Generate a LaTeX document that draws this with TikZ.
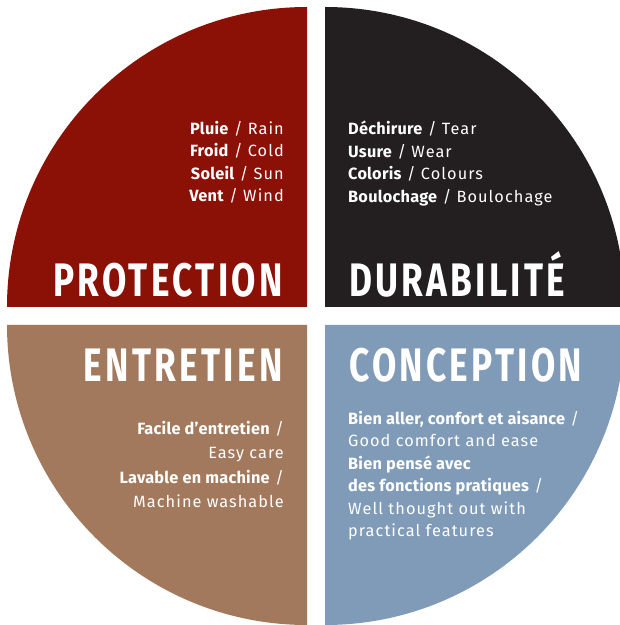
\documentclass[tikz,border=0pt]{standalone}
\usepackage{fontspec}
\setmainfont{Fira Sans}
\newfontfamily\titlefont{Fira Sans}[FakeStretch=0.75,LetterSpace=7]
\newfontfamily\bodyfont{Fira Sans}[LetterSpace=6.5,BoldFeatures={LetterSpace=1.5}]
\definecolor{protred}{RGB}{139,16,6}
\definecolor{durblack}{RGB}{35,31,32}
\definecolor{entbrown}{RGB}{163,121,93}
\definecolor{conblue}{RGB}{128,155,183}

\begin{document}
\begin{tikzpicture}[x=1pt,y=1pt,
  title/.style={text=white,inner sep=0pt,font=\titlefont\bfseries\fontsize{47}{47}\selectfont},
  item/.style={text=white,inner sep=0pt,font=\bodyfont\fontsize{16.3}{22.5}\selectfont}]
\clip (0,0) rectangle (620,625);

% the four quarters
\fill[protred] (307,318) -- ++(-300,0) arc (180:90:300) -- cycle;
\fill[durblack] (325,318) -- ++(0,300) arc (90:0:300) -- cycle;
\fill[entbrown] (307,300) -- ++(-300,0) arc (180:270:300) -- cycle;
\fill[conblue] (325,300) -- ++(300,0) arc (0:-90:300) -- cycle;

\node[title,anchor=base east] (protection) at (283,328) {PROTECTION};
\node[title,anchor=base west] (durabilite) at (349,328) {DURABILITÉ};
\node[title,anchor=base east] (entretien) at (283,243) {ENTRETIEN};
\node[title,anchor=base west] (conception) at (349,243) {CONCEPTION};

\node[item,align=right,anchor=north east] (protitems) at (284,504)
  {\textbf{Pluie} / Rain\\ \textbf{Froid} / Cold\\ \textbf{Soleil} / Sun\\ \textbf{Vent} / Wind};
\node[item,align=left,anchor=north west] (duritems) at (348,504)
  {\textbf{Déchirure} / Tear\\ \textbf{Usure} / Wear\\ \textbf{Coloris} / Colours\\
   \textbf{Boulochage} / Boulochage};
\node[item,align=right,anchor=north east,font=\bodyfont\fontsize{16.3}{24.3}\selectfont] (entitems) at (284,204)
  {\textbf{Facile d’entretien} /\\ Easy care\\ \textbf{Lavable en machine} /\\ Machine washable};
\node[item,align=left,anchor=north west,font=\bodyfont\fontsize{16.3}{22.4}\selectfont] (conitems) at (348,214)
  {\textbf{Bien aller, confort et aisance} /\\ Good comfort and ease\\ \textbf{Bien pensé avec}\\
   \textbf{des fonctions pratiques} /\\ Well thought out with\\ practical features};
\end{tikzpicture}
\end{document}
